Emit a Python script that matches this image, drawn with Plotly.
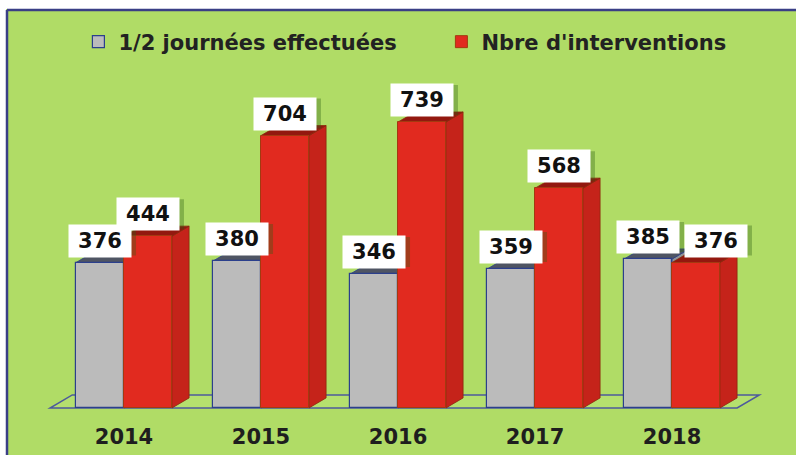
import plotly.graph_objects as go

# ---- data ----
years = ["2014", "2015", "2016", "2017", "2018"]
demi_journees = [376, 380, 346, 359, 385]      # 1/2 journées effectuées
interventions = [444, 704, 739, 568, 376]      # Nbre d'interventions

# ---- style / geometry ----
W, H = 796, 455
ML, MR, MT, MB = 8, 0, 10, 43
BAR_W = 0.35
DX = 0.125      # 3D depth in x units
DY = 26         # 3D depth in y units
GREEN = "#b0dc66"
GREY_FRONT = "#bbbbbb"
GREY_TOP = "#4f5563"
GREY_SIDE = "#8f9296"
RED_FRONT = "#e12a1f"
RED_SIDE = "#c5231a"
RED_TOP = "#93180f"
X_RANGE = [-0.8467, 4.905]
Y_RANGE = [-10.3, 1028.5]
FLOOR_X = [-0.54, 4.475]
FONT = "DejaVu Sans, Liberation Sans, Arial"

idx = list(range(len(years)))
x_grey = [i - BAR_W / 2 for i in idx]
x_red = [i + BAR_W / 2 for i in idx]

fig = go.Figure()
fig.add_trace(go.Bar(
    x=x_grey, y=demi_journees, width=BAR_W, name="1/2 journées effectuées",
    marker=dict(color=GREY_FRONT, line=dict(color="#2b3f8c", width=1.2)),
    hoverinfo="y"))
fig.add_trace(go.Bar(
    x=x_red, y=interventions, width=BAR_W, name="Nbre d'interventions",
    marker=dict(color=RED_FRONT, line=dict(color="#a33a10", width=1)),
    hoverinfo="y"))


def poly(pts):
    return "M " + " L ".join(f"{a},{b}" for a, b in pts) + " Z"


shapes = []
# floor
shapes.append(dict(type="path", xref="x", yref="y", layer="below",
                   path=poly([(FLOOR_X[0], 0), (FLOOR_X[1], 0),
                              (FLOOR_X[1] + DX * 1.3, DY * 1.3),
                              (FLOOR_X[0] + DX * 1.3, DY * 1.3)]),
                   fillcolor="#b5e06e", line=dict(color="#4d5a9c", width=1.5)))


def box_faces(xc, v, side_col, top_col, line_col):
    xl, xr = xc - BAR_W / 2, xc + BAR_W / 2
    side = dict(type="path", xref="x", yref="y", layer="below",
                path=poly([(xr, 0), (xr + DX, DY), (xr + DX, v + DY), (xr, v)]),
                fillcolor=side_col, line=dict(color=line_col, width=0.8))
    top = dict(type="path", xref="x", yref="y", layer="below",
               path=poly([(xl, v), (xr, v), (xr + DX, v + DY), (xl + DX, v + DY)]),
               fillcolor=top_col, line=dict(color=line_col, width=0.8))
    return [side, top]


for i in idx:
    shapes += box_faces(x_grey[i], demi_journees[i], GREY_SIDE, GREY_TOP, "#2b3f8c")
    shapes += box_faces(x_red[i], interventions[i], RED_SIDE, RED_TOP, "#8a2a0c")


# frame: white strips on top/left + dark border
def px_to_paper_x(px):
    return (px - ML) / (W - ML - MR)


def py_to_paper_y(py):
    return (H - MB - py) / (H - MT - MB)


shapes.append(dict(type="rect", xref="paper", yref="paper", layer="above",
                   x0=px_to_paper_x(-2), x1=px_to_paper_x(6),
                   y0=py_to_paper_y(H + 2), y1=py_to_paper_y(-2),
                   fillcolor="white", line=dict(width=0)))
shapes.append(dict(type="rect", xref="paper", yref="paper", layer="above",
                   x0=px_to_paper_x(-2), x1=px_to_paper_x(W + 2),
                   y0=py_to_paper_y(9), y1=py_to_paper_y(-2),
                   fillcolor="white", line=dict(width=0)))
shapes.append(dict(type="line", xref="paper", yref="paper", layer="above",
                   x0=px_to_paper_x(7), x1=px_to_paper_x(W + 2),
                   y0=py_to_paper_y(10), y1=py_to_paper_y(10),
                   line=dict(color="#3a3f86", width=2.5)))
shapes.append(dict(type="line", xref="paper", yref="paper", layer="above",
                   x0=px_to_paper_x(7), x1=px_to_paper_x(7),
                   y0=py_to_paper_y(10), y1=py_to_paper_y(H + 2),
                   line=dict(color="#3a3f86", width=2.5)))

# value labels; a red label that would collide with its grey neighbour
# (nearly equal heights) is nudged to the right
PX_PER_UNIT = (H - MT - MB) / (Y_RANGE[1] - Y_RANGE[0])
label_specs = []
for i in idx:
    label_specs.append((x_grey[i], demi_journees[i], 0))
    close = abs(interventions[i] - demi_journees[i]) * PX_PER_UNIT < 15
    label_specs.append((x_red[i], interventions[i], 20 if close else 0))

BOX_W, BOX_H, GAP = 60, 30, 5
annotations = []
label_font = dict(family=FONT, size=21, color="#111111", weight="bold")
for x, v, xs in label_specs:
    # soft shadow behind each label box (pixel-sized shape anchored at the bar top)
    shapes.append(dict(type="rect", xref="x", yref="y", layer="above",
                       xsizemode="pixel", ysizemode="pixel", xanchor=x, yanchor=v,
                       x0=xs - BOX_W / 2 + 6, x1=xs + BOX_W / 2 + 6,
                       y0=GAP + 2, y1=GAP + BOX_H + 2,
                       fillcolor="rgba(45,95,20,0.35)", line=dict(width=0)))
    annotations.append(dict(x=x, y=v, xref="x", yref="y", text=str(v),
                            showarrow=False, yanchor="bottom", yshift=GAP, xshift=xs,
                            width=BOX_W, height=BOX_H, bgcolor="white",
                            font=label_font))

fig.update_layout(
    width=W, height=H,
    margin=dict(l=ML, r=MR, t=MT, b=MB, autoexpand=False),
    paper_bgcolor=GREEN, plot_bgcolor=GREEN,
    barmode="overlay", bargap=0,
    showlegend=True,
    legend=dict(orientation="h", x=0.55, xanchor="center", y=py_to_paper_y(42),
                yanchor="middle", bgcolor="rgba(0,0,0,0)", entrywidth=318,
                font=dict(family=FONT, size=21, color="#222222", weight="bold"),
                itemwidth=30, traceorder="normal"),
    xaxis=dict(range=X_RANGE, tickmode="array", tickvals=idx, ticktext=years,
               showgrid=False, zeroline=False, showline=False,
               ticks="outside", ticklen=6, tickcolor="rgba(0,0,0,0)",
               tickfont=dict(family=FONT, size=21, color="#1e1e1e", weight="bold")),
    yaxis=dict(range=Y_RANGE, visible=False, showgrid=False, zeroline=False),
    shapes=shapes,
    annotations=annotations,
)

fig.write_html("out.html")
